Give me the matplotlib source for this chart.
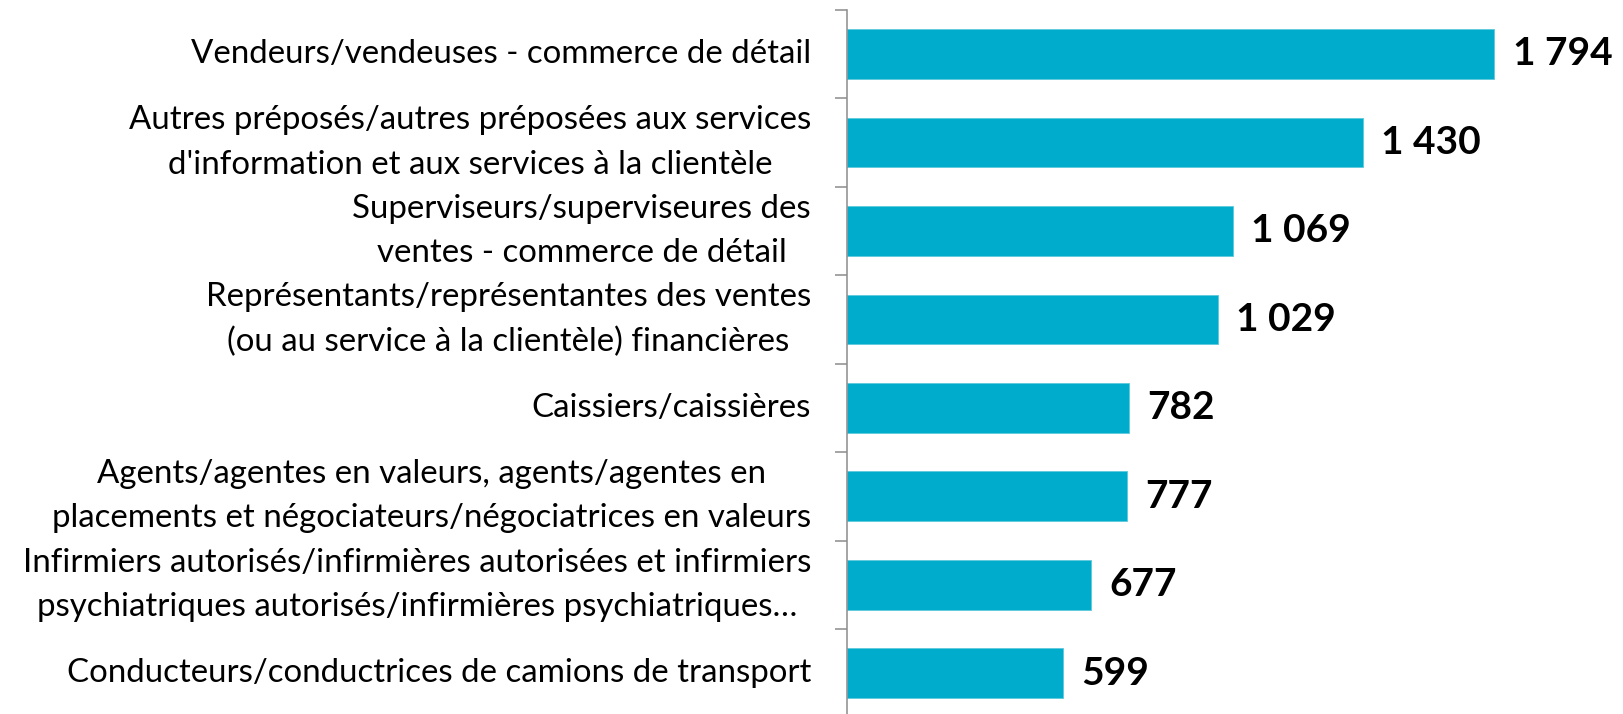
#!/usr/bin/env python

# Horizontal bar chart - occupations, counts labelled at bar ends

import matplotlib

matplotlib.use("Agg")
import matplotlib.pyplot as plt

# Data (top to bottom)
occupations = [
    "Vendeurs/vendeuses - commerce de détail",
    "Autres préposés/autres préposées aux services\nd'information et aux services à la clientèle",
    "Superviseurs/superviseures des\nventes - commerce de détail",
    "Représentants/représentantes des ventes\n(ou au service à la clientèle) financières",
    "Caissiers/caissières",
    "Agents/agentes en valeurs, agents/agentes en\nplacements et négociateurs/négociatrices en valeurs",
    "Infirmiers autorisés/infirmières autorisées et infirmiers\npsychiatriques autorisés/infirmières psychiatriques…",
    "Conducteurs/conductrices de camions de transport",
]
counts = [1794, 1430, 1069, 1029, 782, 777, 677, 599]

bar_colour = "#00ACCB"
axis_colour = "#8C8C8C"

plt.rcParams["font.family"] = ["Lato", "DejaVu Sans"]

fig = plt.figure(figsize=(16.24, 7.14), dpi=100, facecolor="white")
ax = fig.add_axes([0.5216, -0.0049, 0.4784, 0.9915])

ypos = list(range(len(counts)))
ax.barh(
    ypos,
    counts,
    height=0.56,
    color=bar_colour,
    edgecolor="#5CC8DC",
    linewidth=0.6,
    zorder=2,
)

ax.set_xlim(0, 2153)
ax.set_ylim(len(counts) - 0.5, -0.5)

# Tick marks between categories, labels at category centres
ax.set_yticks([i - 0.5 for i in range(len(counts) + 1)])
ax.set_yticklabels([])
ax.set_yticks(ypos, minor=True)
ax.set_yticklabels(occupations, minor=True)
ax.tick_params(
    axis="y", which="major", length=8.5, width=1.1, color=axis_colour, direction="out"
)
ax.tick_params(axis="y", which="minor", length=0, pad=26, labelsize=23.8)
for t in ax.get_yticklabels(minor=True):
    t.set_multialignment("center")
    t.set_linespacing(1.6)
    t.set_verticalalignment("center")

ax.set_xticks([])
for side in ["top", "right", "bottom"]:
    ax.spines[side].set_visible(False)
ax.spines["left"].set_color(axis_colour)
ax.spines["left"].set_linewidth(1.1)

# Value labels
for y, v in zip(ypos, counts):
    ax.annotate(
        "{:,}".format(v).replace(",", " "),
        xy=(v, y),
        xytext=(13, 0),
        textcoords="offset points",
        ha="left",
        va="center",
        fontsize=28,
        fontweight="bold",
        color="black",
    )

fig.savefig("out.png", dpi=100, facecolor="white")
